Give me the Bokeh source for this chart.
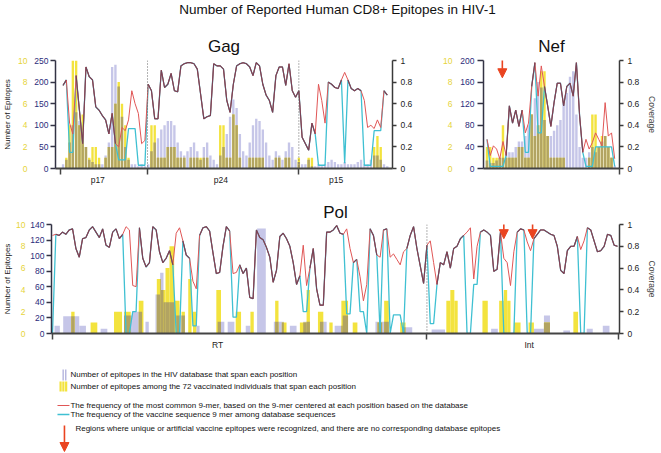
import numpy as np
from bokeh.plotting import figure
from bokeh.models import (Range1d, LinearAxis, FixedTicker, Span, Arrow, NormalHead,
                          NumeralTickFormatter)
from bokeh.layouts import column, row
from bokeh.embed import file_html
from bokeh.resources import INLINE
from bokeh.core.properties import value

# ------------------------------------------------------------------ data
main_title = "Number of Reported Human CD8+ Epitopes in HIV-1"
cov_ticks = [0, 0.2, 0.4, 0.6, 0.8, 1]
vac_ticks = [0, 2, 4, 6, 8, 10]
gag_db_ticks = [0, 50, 100, 150, 200, 250]
nef_db_ticks = [0, 40, 80, 120, 160, 200]
pol_db_ticks = [0, 20, 40, 60, 80, 100, 120, 140]

# ---- Gag (positions every 5 aa)
gag_regions = ["p17", "p24", "p15"]
gag_region_label_pos = [58, 246, 422]
gag_bounds = [1, 134, 365]
gag_pos = list(range(5, 501, 5))
gag_common = [0.77, 0.82, 0.42, 0.32, 0.86, 0.54, 0.23, 0.94, 0.85, 0.82,
              0.57, 0.54, 0.49, 0.45, 0.32, 0.51, 0.23, 0.20, 0.38, 0.35,
              0.45, 0.72, 0.60, 0.51, 0.23, 0.26, 0.78, 0.72, 0.46, 0.46,
              0.91, 0.75, 0.78, 0.88, 0.72, 0.71, 0.95, 0.97, 0.98, 0.98,
              0.97, 0.92, 0.69, 0.46, 0.48, 0.49, 0.97, 0.95, 0.95, 0.92,
              0.63, 0.52, 0.78, 0.95, 0.97, 0.98, 0.97, 0.94, 0.86, 0.98,
              0.95, 0.78, 0.68, 0.63, 0.52, 0.86, 0.94, 0.94, 0.77, 0.97,
              0.72, 0.66, 0.72, 0.29, 0.23, 0.17, 0.42, 0.32, 0.78, 0.63,
              0.42, 0.80, 0.78, 0.75, 0.74, 0.82, 0.89, 0.82, 0.74, 0.72,
              0.74, 0.72, 0.63, 0.38, 0.40, 0.37, 0.45, 0.38, 0.72, 0.68]
# vaccine 9-mer frequency: equal to the common one except in these stretches
gag_vac_dip_start = [15, 90, 105, 120, 395, 435, 465, 480]
gag_vac_dip_end = [20, 100, 115, 130, 405, 435, 475, 490]
gag_vac_dip_value = [0.15, 0.08, 0.37, 0.03, 0.03, 0.05, 0.03, 0.35]
gag_db = [10, 20, 60, 100, 130, 110, 80, 50, 20, 15,
          10, 10, 10, 30, 60, 235, 240, 190, 120, 50,
          20, 10, 10, 5, 10, 5, 10, 40, 60, 70,
          90, 100, 110, 110, 100, 60, 40, 30, 40, 50,
          60, 40, 20, 50, 60, 30, 20, 10, 30, 50,
          80, 120, 160, 140, 80, 40, 30, 60, 100, 115,
          110, 90, 60, 30, 20, 40, 30, 20, 40, 60,
          50, 20, 15, 10, 10, 20, 5, 5, 10, 5,
          10, 15, 20, 15, 10, 10, 15, 10, 10, 10,
          15, 20, 10, 10, 20, 30, 30, 20, 10, 5]
gag_vac = [0, 1, 4, 10, 10, 4, 5, 2, 1, 2,
           2, 1, 0, 1, 2, 2, 6, 8, 6, 4,
           1, 0, 0, 0, 0, 0, 0, 4, 4, 1,
           1, 1, 2, 2, 2, 1, 1, 1, 0, 1,
           1, 1, 1, 1, 1, 0, 0, 0, 4, 4,
           1, 1, 5, 4, 1, 0, 0, 1, 1, 1,
           1, 1, 0, 0, 0, 1, 1, 0, 1, 1,
           0, 0, 1, 0, 0, 1, 1, 0, 0, 0,
           0, 0, 0, 0, 0, 0, 0, 0, 0, 0,
           0, 0, 0, 0, 0, 2, 3, 2, 0, 0]

# ---- Nef (positions every 5 aa)
nef_pos = list(range(3, 206, 5))
nef_bounds = [210]
nef_common = [0.27, 0.12, 0.21, 0.18, 0.09, 0.25, 0.12, 0.58, 0.42, 0.54,
              0.39, 0.54, 0.33, 0.42, 0.76, 0.98, 0.67, 0.95, 0.76, 0.58,
              0.39, 0.61, 0.79, 0.79, 0.58, 0.76, 0.79, 0.67, 0.98, 0.49,
              0.15, 0.27, 0.18, 0.24, 0.33, 0.27, 0.21, 0.61, 0.30, 0.33, 0.09]
nef_vac_dip_start = [8, 63, 83, 158, 173, 203]
nef_vac_dip_end = [28, 68, 88, 168, 198, 203]
nef_vac_dip_value = [0.02, 0.15, 0.33, 0.02, 0.20, 0.02]
nef_db = [15, 10, 10, 15, 20, 20, 30, 30, 30, 40,
          50, 50, 60, 80, 100, 130, 160, 150, 90, 60,
          60, 70, 80, 90, 120, 140, 170, 180, 100, 40,
          20, 20, 30, 40, 30, 40, 50, 60, 40, 20, 5]
nef_vac = [2, 2, 1, 1, 1, 4, 1, 1, 1, 1,
           2, 2, 1, 1, 5, 3, 4, 9, 9, 3,
           1, 1, 1, 1, 1, 0, 0, 0, 0, 0,
           0, 0, 1, 5, 5, 2, 3, 3, 2, 1, 0]
nef_arrow_pos = [27]

# ---- Pol = RT + Int (positions every 5 aa)
pol_regions = ["RT", "Int"]
pol_region_label_pos = [248, 714]
pol_bounds = [1, 561, 848]
pol_pos = list(range(1, 847, 5))
pol_common = [0.90, 0.91, 0.90, 0.93, 0.91, 0.95, 0.96, 0.78, 0.70, 0.87,
              0.88, 0.95, 0.98, 0.93, 0.88, 0.96, 0.81, 0.79, 0.93, 0.96,
              0.87, 0.91, 0.98, 0.95, 0.44, 0.43, 0.97, 0.69, 0.61, 0.65,
              0.98, 0.95, 0.75, 0.65, 0.69, 0.76, 0.63, 0.92, 0.97, 0.85,
              0.72, 0.69, 0.48, 0.41, 0.90, 0.97, 0.98, 0.94, 0.74, 0.55,
              0.56, 0.80, 0.98, 0.94, 0.55, 0.56, 0.63, 0.55, 0.60, 0.33,
              0.32, 0.95, 0.88, 0.86, 0.79, 0.70, 0.47, 0.58, 0.89, 0.92,
              0.87, 0.80, 0.65, 0.45, 0.53, 0.81, 0.44, 0.60, 0.78, 0.41,
              0.26, 0.26, 0.93, 0.93, 0.95, 0.99, 0.92, 0.91, 0.96, 0.78,
              0.65, 0.68, 0.52, 0.30, 0.45, 0.96, 0.90, 0.72, 0.70, 0.95,
              0.96, 0.70, 0.73, 0.68, 0.63, 0.75, 0.78, 0.90, 0.98, 0.78,
              0.62, 0.46, 0.81, 0.85, 0.65, 0.45, 0.65, 0.63, 0.75, 0.60,
              0.78, 0.80, 0.87, 0.90, 0.93, 0.97, 0.50, 0.80, 0.93, 0.95,
              0.93, 0.90, 0.57, 0.59, 0.93, 0.69, 0.65, 0.44, 0.75, 0.93,
              0.96, 0.95, 0.84, 0.76, 0.87, 0.91, 0.95, 0.95, 0.93, 0.91,
              0.90, 0.80, 0.58, 0.55, 0.76, 0.80, 0.80, 0.89, 0.77, 0.85,
              0.97, 0.95, 0.85, 0.75, 0.76, 0.80, 0.91, 0.90, 0.81, 0.80]
pol_vac_dip_start = [1, 111, 121, 186, 211, 271, 376, 441, 461, 471, 491, 506,
                     511, 526, 566, 621, 631, 676, 711, 791]
pol_vac_dip_end = [1, 116, 126, 191, 216, 276, 381, 446, 466, 471, 491, 506,
                   521, 526, 571, 626, 636, 691, 716, 796]
pol_vac_dip_value = [0.0, 0.0, 0.20, 0.0, 0.07, 0.15, 0.20, 0.18, 0.20, 0.0, 0.0, 0.0,
                     0.17, 0.0, 0.09, 0.0, 0.45, 0.0, 0.0, 0.0]
pol_vac_start = [29, 58, 93, 108, 130, 157, 163, 170, 176, 183, 194, 204, 211, 246, 275,
                 297, 334, 344, 371, 381, 398, 415, 433, 450, 487, 497, 521, 590, 596,
                 602, 644, 669, 676, 681, 691, 713, 736, 780]
pol_vac_end = [34, 68, 105, 118, 137, 163, 170, 176, 183, 191, 199, 209, 216, 253, 283,
               302, 339, 351, 381, 386, 406, 420, 443, 457, 494, 504, 529, 596, 602,
               607, 652, 676, 681, 686, 701, 721, 745, 787]
pol_vac_count = [2, 1, 2, 2, 3, 5, 4, 6, 8, 3, 2, 5, 2, 4, 2,
                 2, 3, 1, 1, 4, 2, 1, 3, 1, 1, 3, 1, 3, 4,
                 3, 3, 3, 4, 3, 1, 1, 1, 2]
pol_db_start = [4, 17, 41, 73, 108, 120, 140, 155, 162, 167, 186, 216, 248, 263, 290, 307,
                332, 356, 376, 401, 423, 435, 484, 524, 568, 657, 721, 736, 765, 800, 824]
pol_db_end = [12, 41, 51, 83, 120, 135, 145, 162, 167, 184, 199, 221, 258, 273, 297, 320,
              347, 366, 386, 411, 435, 443, 504, 539, 588, 667, 736, 745, 775, 809, 834]
pol_db_count = [10, 22, 10, 6, 23, 28, 15, 50, 78, 40, 23, 10, 15, 15, 10, 135,
                15, 10, 15, 15, 10, 23, 15, 8, 5, 6, 6, 23, 4, 6, 10]
pol_arrow_pos = [676, 719]

legend_texts = [
    "Number of epitopes in the HIV database that span each position",
    "Number of epitopes among the 72 vaccinated individuals that span each position",
    "The frequency of the most common 9-mer, based on the 9-mer centered at each position based on the database",
    "The frequency of the vaccine sequence 9 mer among database sequences",
    "Regions where unique or artificial vaccine epitopes were recognized, and there are no corresponding database epitopes",
]

# ------------------------------------------------------------------ style
FONT = "Liberation Sans"
RED = "#e05656"
CYAN = "#3fc0d2"
DARK = "#784256"
LAV = "#c6c6e8"
YEL = "#f3e33e"
OLIVE = "#b2a462"
NAVY = "#2b2b7a"
YTXT = "#e6d43a"
AXC = "#3a3a3a"
ARROWC = "#ea4420"
TICK_FS = "8.5px"


def with_dips(pos, common, starts, ends, vals):
    v = np.array(common, dtype=float)
    pos = np.asarray(pos)
    for s, e, val in zip(starts, ends, vals):
        v[(pos >= s) & (pos <= e)] = val
    return v


def style_axis(ax, color=AXC):
    ax.major_label_text_font = FONT
    ax.major_label_text_font_size = TICK_FS
    ax.axis_label_text_font = FONT
    ax.axis_label_text_font_style = "normal"
    ax.axis_label_text_font_size = "8.5px"
    ax.axis_line_color = color
    ax.axis_line_width = 1.5
    ax.major_tick_line_color = color
    ax.major_tick_line_width = 1.3
    ax.minor_tick_line_color = None


def make_panel(width, height, borders, xr, db_ticks, title, title_standoff,
               left_label=None, right_label=None, blue_std=2, yel_std=4, lab_std=3,
               blue_tick=5):
    l, r, t, b = borders
    p = figure(width=width, height=height, x_range=Range1d(*xr), y_range=Range1d(0, 1),
               y_axis_location="right", toolbar_location=None, output_backend="svg",
               min_border_left=l, min_border_right=r, min_border_top=t, min_border_bottom=b)
    p.outline_line_color = None
    p.grid.visible = False
    p.extra_y_ranges = {"db": Range1d(0, db_ticks[-1]), "vac": Range1d(0, vac_ticks[-1])}

    p.title.text = title
    p.title.align = "center"
    p.title.text_font = FONT
    p.title.text_font_size = "17px"
    p.title.text_font_style = "normal"
    p.title.text_color = "#111111"
    p.title.standoff = title_standoff

    ra = p.yaxis[0]
    ra.ticker = FixedTicker(ticks=cov_ticks)
    ra.formatter = NumeralTickFormatter(format="0.[0]")
    style_axis(ra)
    ra.major_tick_out = 4
    ra.major_tick_in = 0
    ra.major_label_standoff = 4
    ra.major_label_text_color = "#222222"
    if right_label:
        ra.axis_label = right_label
        ra.axis_label_standoff = 5

    blue = LinearAxis(y_range_name="db", ticker=FixedTicker(ticks=db_ticks))
    style_axis(blue, "#333344")
    blue.major_tick_out = blue_tick
    blue.major_tick_in = 0
    blue.major_label_standoff = blue_std
    blue.major_label_text_color = NAVY
    p.add_layout(blue, "left")

    yel = LinearAxis(y_range_name="vac", ticker=FixedTicker(ticks=vac_ticks))
    style_axis(yel)
    yel.axis_line_color = None
    yel.major_tick_line_color = None
    yel.major_tick_out = 0
    yel.major_tick_in = 0
    yel.major_label_standoff = yel_std
    yel.major_label_text_color = YTXT
    if left_label:
        yel.axis_label = left_label
        yel.axis_label_standoff = lab_std
        yel.axis_label_text_font_size = "8px"
        yel.axis_label_text_color = "#222222"
    p.add_layout(yel, "left")
    return p


def set_xaxis(p, label_pos, labels, bounds):
    xa = p.xaxis[0]
    xa.ticker = FixedTicker(ticks=label_pos, minor_ticks=bounds)
    xa.major_label_overrides = {k: v for k, v in zip(label_pos, labels)}
    style_axis(xa, "#444444")
    xa.axis_line_width = 2
    xa.major_tick_out = 0
    xa.major_tick_in = 0
    xa.minor_tick_line_color = "#444444"
    xa.minor_tick_line_width = 1.5
    xa.minor_tick_out = 6
    xa.minor_tick_in = 0
    xa.major_label_standoff = 0
    xa.major_label_text_color = "#222222"


def add_binned(p, pos, common, vaccine, db, vac, db_max, w):
    db = np.array(db, dtype=float)
    vac = np.array(vac, dtype=float)
    p.vbar(x=pos, top=db, width=w, y_range_name="db", fill_color=LAV, line_color=None)
    p.vbar(x=pos, top=vac, width=w, y_range_name="vac", fill_color=YEL, line_color=None)
    overlap = np.minimum(vac / vac_ticks[-1], db / db_max)
    p.vbar(x=pos, top=overlap, width=w, fill_color=OLIVE, line_color=None)
    add_lines(p, pos, common, vaccine)


def add_lines(p, pos, common, vaccine):
    common = np.array(common, dtype=float)
    dark = np.where(np.isclose(vaccine, common), common, np.nan)
    p.line(pos, vaccine, line_color=CYAN, line_width=1.3)
    p.line(pos, common, line_color=RED, line_width=1.0)
    p.line(pos, dark, line_color=DARK, line_width=1.1)


def add_arrows(p, xs, y0, y1):
    for x in xs:
        p.add_layout(Arrow(end=NormalHead(size=9, fill_color=ARROWC, line_color=ARROWC, line_width=1),
                           x_start=x, y_start=y0, x_end=x, y_end=y1,
                           line_color=ARROWC, line_width=1.6))


def add_dividers(p, locs):
    for b in locs:
        p.add_layout(Span(location=b, dimension="height", line_color="#666666",
                          line_dash="1 2", line_width=1))


STRIP_L, STRIP_R = 49, 619


def strip(height):
    # frame fixed at page x 49..619 (same as the aligned frames above), so the
    # x range is simply expressed in page pixels
    f = figure(width=661, height=height, x_range=Range1d(STRIP_L, STRIP_R),
               y_range=Range1d(height, 0),
               x_axis_location=None, y_axis_location=None, toolbar_location=None,
               output_backend="svg", min_border_left=STRIP_L, min_border_right=661 - STRIP_R,
               min_border_top=0, min_border_bottom=0)
    f.outline_line_color = None
    f.grid.visible = False
    return f


# ------------------------------------------------------------------ title strip
tfig = strip(28)
tfig.text(x=[336], y=[8.5], text=[main_title], text_font=value(FONT), text_font_size="13.5px",
          text_align="center", text_baseline="middle", text_color="#111111")

# ------------------------------------------------------------------ Gag
gag = make_panel(420, 160, (49, 28, 32, 20), (-6.5, 508), gag_db_ticks, "Gag", 9,
                 left_label="Number of Epitopes")
set_xaxis(gag, gag_region_label_pos, gag_regions, gag_bounds)
gag_vaccine = with_dips(gag_pos, gag_common, gag_vac_dip_start, gag_vac_dip_end, gag_vac_dip_value)
add_binned(gag, gag_pos, gag_common, gag_vaccine, gag_db, gag_vac, gag_db_ticks[-1], 3.6)
add_dividers(gag, gag_bounds[1:])

# ------------------------------------------------------------------ Nef
nef = make_panel(241, 160, (63, 42, 32, 19), (-2.5, 210.5), nef_db_ticks, "Nef", 9,
                 right_label="Coverage", blue_std=3, yel_std=5, blue_tick=6)
set_xaxis(nef, [], [], nef_bounds)
nef_vaccine = with_dips(nef_pos, nef_common, nef_vac_dip_start, nef_vac_dip_end, nef_vac_dip_value)
add_binned(nef, nef_pos, nef_common, nef_vaccine, nef_db, nef_vac, nef_db_ticks[-1], 3.8)
add_arrows(nef, nef_arrow_pos, 1.07, 0.84)

# ------------------------------------------------------------------ Pol
pol = make_panel(661, 177, (45, 41, 36, 32), (-0.5, 849), pol_db_ticks, "Pol", 5,
                 left_label="Number of Epitopes", right_label="Coverage",
                 blue_std=2, yel_std=2, lab_std=1, blue_tick=5)
set_xaxis(pol, pol_region_label_pos, pol_regions, pol_bounds)
pol.quad(left=pol_db_start, right=pol_db_end, bottom=0, top=pol_db_count, y_range_name="db",
         fill_color=LAV, line_color=None)
pol.quad(left=pol_vac_start, right=pol_vac_end, bottom=0, top=pol_vac_count, y_range_name="vac",
         fill_color=YEL, line_color=None)
ov_l, ov_r, ov_t = [], [], []
for s1, e1, c1 in zip(pol_vac_start, pol_vac_end, pol_vac_count):
    for s2, e2, c2 in zip(pol_db_start, pol_db_end, pol_db_count):
        s, e = max(s1, s2), min(e1, e2)
        if s < e:
            ov_l.append(s)
            ov_r.append(e)
            ov_t.append(min(c1 / vac_ticks[-1], c2 / pol_db_ticks[-1]))
pol.quad(left=ov_l, right=ov_r, bottom=0, top=ov_t, fill_color=OLIVE, line_color=None)
pol_vaccine = with_dips(pol_pos, pol_common, pol_vac_dip_start, pol_vac_dip_end, pol_vac_dip_value)
add_lines(pol, pol_pos, pol_common, pol_vaccine)
add_dividers(pol, [pol_bounds[1]])
add_arrows(pol, pol_arrow_pos, 1.10, 0.87)

# ------------------------------------------------------------------ legend strip
lg = strip(88)
lg.quad(left=[60, 62.6], right=[61.4, 64], top=[4, 4], bottom=[15, 15],
        fill_color="#b4b4de", line_color=None)
lg.quad(left=[57, 59.8, 62.6], right=[59.2, 62, 64.8], top=[16, 16, 16], bottom=[26, 26, 26],
        fill_color=YEL, line_color=None)
lg.segment(x0=[55], y0=[40], x1=[67], y1=[40], line_color=RED, line_width=1.2)
lg.segment(x0=[55], y0=[49], x1=[67], y1=[49], line_color=CYAN, line_width=1.4)
lg.add_layout(Arrow(end=NormalHead(size=9, fill_color=ARROWC, line_color=ARROWC, line_width=1),
                    x_start=62, y_start=60, x_end=62, y_end=86, line_color=ARROWC, line_width=1.6))
lg.text(x=[68, 68, 68, 68, 73], y=[9, 21, 40, 49, 63], text=legend_texts,
        text_font=value(FONT), text_font_size="8px", text_align="left",
        text_baseline="middle", text_color="#111111")

layout = column(tfig, row(gag, nef), pol, lg)

open("out.html", "w").write(file_html(layout, INLINE, "HIV-1 CD8+ epitopes"))
